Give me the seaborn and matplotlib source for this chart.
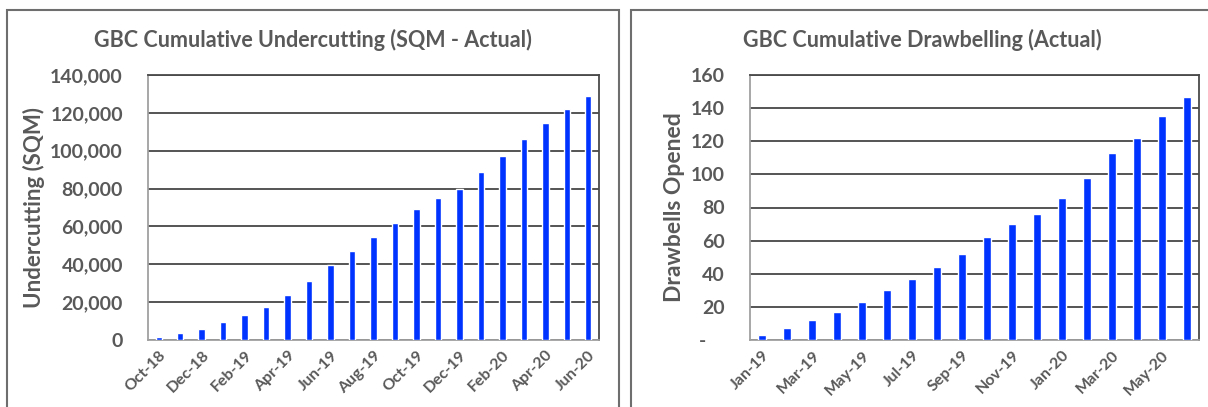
import numpy as np
import pandas as pd
import matplotlib
matplotlib.use("Agg")
import matplotlib.pyplot as plt
from matplotlib.patches import Rectangle
from matplotlib.ticker import FuncFormatter, FixedLocator
import seaborn as sns

# ---------------- data ----------------
under_months = ["Oct-18", "Nov-18", "Dec-18", "Jan-19", "Feb-19", "Mar-19", "Apr-19",
                "May-19", "Jun-19", "Jul-19", "Aug-19", "Sep-19", "Oct-19", "Nov-19",
                "Dec-19", "Jan-20", "Feb-20", "Mar-20", "Apr-20", "May-20", "Jun-20"]
under_vals = [1400, 3500, 5600, 9300, 13200, 17500, 23800, 31400, 39500, 47000, 54500,
              61900, 69400, 74900, 79900, 88500, 97000, 106100, 114600, 122200, 128700]
under_ticklabels = ["Oct-18", "Dec-18", "Feb-19", "Apr-19", "Jun-19", "Aug-19",
                    "Oct-19", "Dec-19", "Feb-20", "Apr-20", "Jun-20"]

draw_months = ["Jan-19", "Feb-19", "Mar-19", "Apr-19", "May-19", "Jun-19", "Jul-19",
               "Aug-19", "Sep-19", "Oct-19", "Nov-19", "Dec-19", "Jan-20", "Feb-20",
               "Mar-20", "Apr-20", "May-20", "Jun-20"]
draw_vals = [3, 7, 12, 17, 23, 30, 37, 44, 52, 62, 70, 76, 86, 98, 113, 122, 135, 147]
draw_ticklabels = ["Jan-19", "Mar-19", "May-19", "Jul-19", "Sep-19", "Nov-19",
                   "Jan-20", "Mar-20", "May-20"]

# ---------------- style ----------------
sns.set_theme(style="white")
plt.rcParams["font.family"] = ["Lato", "DejaVu Sans"]

TXT = "#595959"
BAR = "#0033ff"
GRID = "#262626"

W, H = 1208, 407
fig = plt.figure(figsize=(W / 100, H / 100), dpi=100)


def fig_rect(x0, y0, x1, y1):
    """pixel box (top-left origin) -> figure fraction [l, b, w, h]"""
    return [x0 / W, 1 - y1 / H, (x1 - x0) / W, (y1 - y0) / H]


# panel frames
for (x0, x1) in [(7, 619), (631, 1214)]:
    fig.patches.append(Rectangle((x0 / W, -0.05), (x1 - x0) / W, 1 - 10 / H + 0.05,
                                 transform=fig.transFigure, fill=False,
                                 edgecolor="#6e6e6e", linewidth=1.5, zorder=0))

ax1 = fig.add_axes(fig_rect(148, 75, 599, 340))
ax2 = fig.add_axes(fig_rect(750, 75, 1199, 340))

df1 = pd.DataFrame({"month": under_months, "value": under_vals})
df2 = pd.DataFrame({"month": draw_months, "value": draw_vals})

sns.barplot(data=df1, x="month", y="value", color=BAR, saturation=1, width=0.3, ax=ax1, zorder=3)
sns.barplot(data=df2, x="month", y="value", color=BAR, saturation=1, width=0.32, ax=ax2, zorder=3)

# left axes
ax1.set_ylim(0, 140000)
ax1.set_yticks(np.arange(0, 140001, 20000))
ax1.yaxis.set_major_formatter(FuncFormatter(lambda v, p: f"{v:,.0f}"))
ax1.set_xlim(-0.5, len(under_months) - 0.5)
ax1.set_xticks(range(0, len(under_months), 2))
ax1.set_xticklabels(under_ticklabels)
ax1.xaxis.set_minor_locator(FixedLocator(np.arange(-0.5, len(under_months), 2)))
ax1.tick_params(axis="x", which="minor", length=5, width=1, color="#a0a0a0", direction="out")
ax1.tick_params(axis="x", which="major", length=0)
ax1.set_ylabel("Undercutting (SQM)", fontsize=16, fontweight="bold", color=TXT, labelpad=4)

# right axes
ax2.set_ylim(0, 160)
ax2.set_yticks(np.arange(0, 161, 20))
ax2.yaxis.set_major_formatter(FuncFormatter(lambda v, p: "-    " if v == 0 else f"{v:,.0f}"))
ax2.set_xlim(-0.5, len(draw_months) - 0.5)
ax2.set_xticks(range(0, len(draw_months) - 1, 2))
ax2.set_xticklabels(draw_ticklabels)
ax2.tick_params(axis="x", which="major", length=0)
ax2.set_ylabel("Drawbells Opened", fontsize=16.5, fontweight="bold", color=TXT, labelpad=4)

for ax in (ax1, ax2):
    ax.set_xlabel("")
    ax.tick_params(axis="y", length=0, labelsize=14, labelcolor=TXT, pad=18)
    for lab in ax.get_yticklabels():
        lab.set_fontweight("bold")
    ax.tick_params(axis="x", which="major", labelsize=11.5, labelcolor=TXT, pad=6)
    for lab in ax.get_xticklabels():
        lab.set_rotation(45)
        lab.set_ha("right")
        lab.set_rotation_mode("anchor")
        lab.set_fontweight("bold")
    ax.grid(axis="y", color=GRID, linewidth=1.1)
    ax.grid(axis="x", visible=False)
    ax.set_axisbelow(True)
    for s in ax.spines.values():
        s.set_visible(True)
        s.set_color("#4a4a4a")
        s.set_linewidth(1.3)
    ax.spines["bottom"].set_color("#a0a0a0")
    ax.spines["left"].set_color("#a0a0a0")

fig.text(313 / W, 1 - 40 / H, "GBC Cumulative Undercutting (SQM - Actual)",
         ha="center", va="center", fontsize=15.5, fontweight="bold", color=TXT)
fig.text(922 / W, 1 - 40 / H, "GBC Cumulative Drawbelling (Actual)",
         ha="center", va="center", fontsize=15.5, fontweight="bold", color=TXT)

fig.savefig("out.png", dpi=100)
